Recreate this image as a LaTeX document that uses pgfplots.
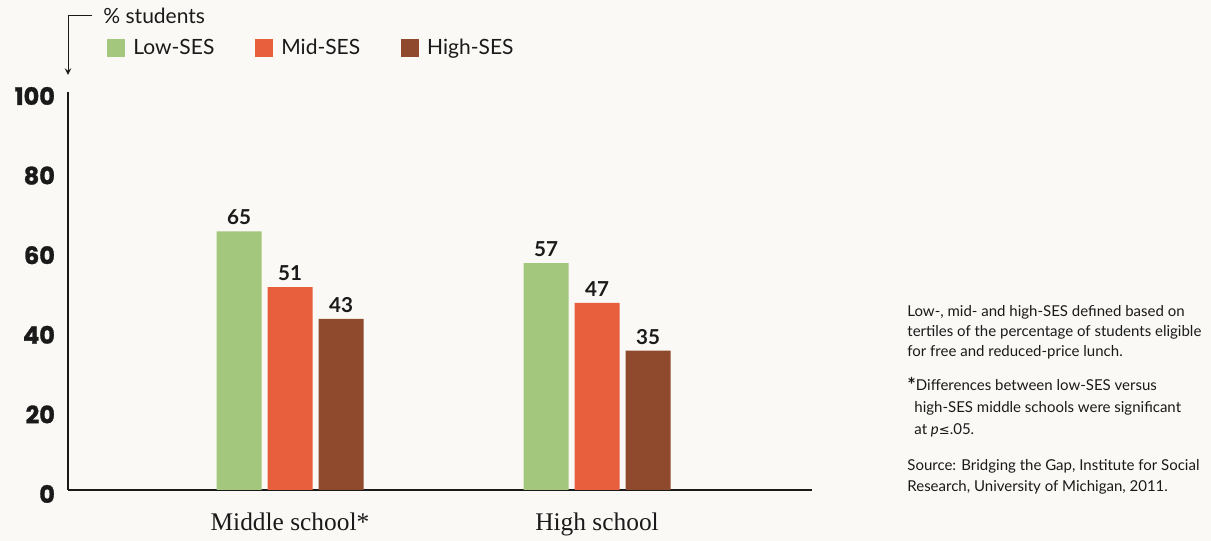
\documentclass[border=0pt]{standalone}
\usepackage{pgfplots}
\pgfplotsset{compat=1.18}
\usepackage{fontspec}
\setmainfont{Lato}
\newfontfamily\heavy{Poppins}[BoldFeatures={FakeBold=1.2}]
\newfontfamily\catfont{Liberation Serif}
\newfontfamily\symfont{DejaVu Sans}
\definecolor{bg}{HTML}{FAF9F5}
\definecolor{lowc}{HTML}{A3C77C}
\definecolor{midc}{HTML}{E85F3D}
\definecolor{highc}{HTML}{8F4A2D}
\definecolor{ink}{HTML}{1A1A1A}
\begin{document}
\begin{tikzpicture}[x=0.5pt,y=0.5pt]
\fill[bg] (0,0) rectangle (1211,541);
\begin{axis}[
  at={(34pt,25.5pt)}, anchor=south west,
  scale only axis, width=372pt, height=199pt,
  ybar=3pt, bar width=22.5pt,
  xmin=-0.723, xmax=1.70, ymin=0, ymax=100,
  axis lines*=left, axis line style={-, line width=1pt, ink},
  xtick={0,1}, xticklabels={Middle school*, High school},
  ytick={0,20,...,100},
  major tick length=0pt,
  xticklabel style={font=\catfont\fontsize{12.7}{14}\selectfont, text=ink, yshift=-8pt},
  yticklabel style={font=\heavy\bfseries\fontsize{12}{13}\selectfont, text=ink, xshift=-3pt, yshift=-2pt},
  /pgf/number format/assume math mode=true,
  nodes near coords,
  every node near coord/.append style={font=\bfseries\fontsize{10.3}{12}\selectfont, text=ink, inner sep=0pt, yshift=3pt},
  legend columns=3,
  legend cell align=left,
  legend image code/.code={\fill[#1] (0pt,-4.5pt) rectangle (9pt,4.5pt);},
  legend style={at={(rel axis cs:0.0524,1.11)}, anchor=west, draw=none, fill=none,
    inner sep=0pt, font=\fontsize{10.5}{12}\selectfont, text=ink,
    /tikz/every odd column/.append style={column sep=2pt},
    /tikz/every even column/.append style={column sep=18.5pt}},
]
\addplot[fill=lowc, draw=none] coordinates {(0,65) (1,57)};
\addplot[fill=midc, draw=none] coordinates {(0,51) (1,47)};
\addplot[fill=highc, draw=none] coordinates {(0,43) (1,35)};
\legend{Low-SES, Mid-SES, High-SES}
\end{axis}
% y-axis caption with arrow
\draw[ink, line width=0.5pt, -stealth] (92,525) -- (68,525) -- (68,466);
\node[anchor=west, inner sep=0pt, text=ink, font=\fontsize{10.5}{12}\selectfont] at (103,525) {\% students};
% notes
\begin{scope}[every node/.style={anchor=base west, inner sep=0pt, text=ink, font=\fontsize{7.5}{9}\selectfont}]
\node at (907,224) {Low-, mid- and high-SES defined based on};
\node at (907,204) {tertiles of the percentage of students eligible};
\node at (907,184) {for free and reduced-price lunch.};
\node at (907,150) {\raisebox{-1pt}{\bfseries\fontsize{10}{10}\selectfont *}Differences between low-SES versus};
\node at (914,128) {high-SES middle schools were significant};
\node at (914,106) {at \textit{p}{\symfont\fontsize{6.5}{9}\selectfont ≤}.05.};
\node at (907,70) {Source: Bridging the Gap, Institute for Social};
\node at (907,49) {Research, University of Michigan, 2011.};
\end{scope}
\pgfresetboundingbox
\useasboundingbox (0,0) rectangle (1211,541);
\end{tikzpicture}
\end{document}
